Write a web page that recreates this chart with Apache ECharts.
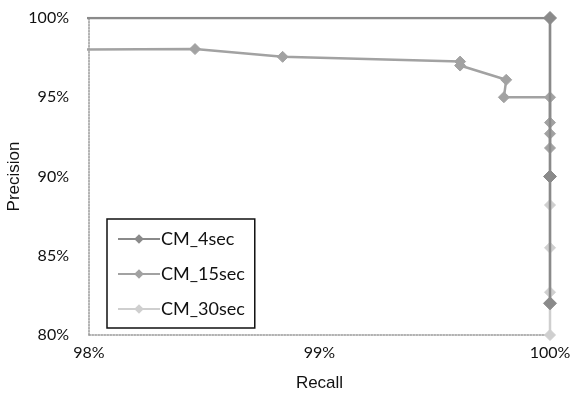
<!DOCTYPE html>
<html><head><meta charset="utf-8">
<script src="https://cdn.jsdelivr.net/npm/echarts@6/dist/echarts.min.js"></script>
<style>html,body{margin:0;padding:0;background:#fff}#c{width:573px;height:398px}</style>
</head><body><div id="c"></div>
<script>
const seriesNames = ["CM_4sec", "CM_15sec", "CM_30sec"];
const cm4sec = [[97.5,100],[100,100],[100,90],[100,82]];
const cm15sec = [[97.5,98],[98.46,98.04],[98.84,97.55],[99.61,97.25],[99.61,97.0],[99.81,96.1],[99.8,95.0],[100,95.0],[100,93.4],[100,92.7],[100,91.8]];
const cm30sec = [[100,100],[100,88.2],[100,85.5],[100,82.7],[100,80]];
const xTicks = [98, 99, 100];
const yTicks = [80, 85, 90, 95, 100];

const colors = ["#8a8a8a", "#a2a2a2", "#cfcfcf"];
const sizes = [13, 11, 11];
const datas = [cm4sec, cm15sec, cm30sec];

const chart = echarts.init(document.getElementById('c'));
chart.setOption({
  animation: false,
  grid: {left: 89, right: 23, top: 18, bottom: 63, containLabel: false, outerBoundsMode: 'none'},
  xAxis: {
    type: 'value', min: xTicks[0], max: xTicks[xTicks.length-1], interval: 1,
    name: 'Recall', nameLocation: 'middle', nameGap: 40, nameMoveOverlap: false,
    nameTextStyle: {fontFamily: 'Liberation Sans', fontSize: 17, color: '#111'},
    axisLine: {lineStyle: {color: '#999', width: 1.5, type: 'dotted'}},
    axisTick: {show: false}, splitLine: {show: false},
    axisLabel: {formatter: '{value}%', fontFamily: 'Lato', fontSize: 16, color: '#111', margin: 10}
  },
  yAxis: {
    type: 'value', min: yTicks[0], max: yTicks[yTicks.length-1], interval: 5,
    name: 'Precision', nameLocation: 'middle', nameGap: 66, nameMoveOverlap: false,
    nameTextStyle: {fontFamily: 'Liberation Sans', fontSize: 17, color: '#111'},
    axisLine: {show: true, lineStyle: {color: '#999', width: 1.5, type: 'dotted'}},
    axisTick: {show: false}, splitLine: {show: false},
    axisLabel: {formatter: '{value}%', fontFamily: 'Lato', fontSize: 16, color: '#111', margin: 20}
  },
  legend: {
    orient: 'vertical', left: 107, top: 219, width: 146,
    padding: [11, 10, 10, 10], itemGap: 17,
    itemWidth: 42, itemHeight: 12,
    borderColor: '#111', borderWidth: 1.5,
    textStyle: {fontFamily: 'Lato', fontSize: 18, color: '#111', padding: [0, 8, 0, -4]},
    data: seriesNames
  },
  series: datas.map((d, i) => ({
    name: seriesNames[i], type: 'line', data: d, clip: true,
    symbol: 'diamond', symbolSize: sizes[i],
    lineStyle: {color: colors[i], width: 2.5},
    itemStyle: {color: colors[i], borderColor: colors[i]},
    z: 3 - i
  }))
});
</script></body></html>
